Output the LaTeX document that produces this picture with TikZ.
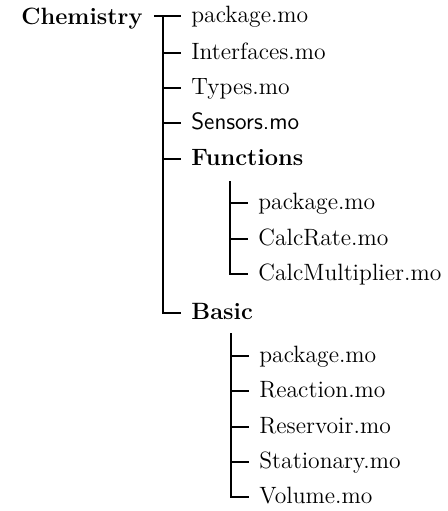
\documentclass[tikz,border=0pt]{standalone}
\usepackage{tikz}

\begin{document}
\begin{tikzpicture}[
    x=0.5pt,y=-0.5pt,
    every node/.style={font=\fontsize{11.8}{14}\selectfont},
    item/.style={anchor=west,inner xsep=5pt,inner ysep=0pt,text height=1.6ex,text depth=0pt},
    folder/.style={item,font=\fontsize{11.8}{14}\selectfont\bfseries},
    branch/.style={draw=black,line width=0.65pt}
]
\useasboundingbox (0,0) rectangle (447,511);

% root
\node[folder,anchor=east,inner xsep=0pt] (chem) at (143,18) {Chemistry};
\coordinate (barL) at (154,16);
\coordinate (rootTop) at (163,16);

% first level
\node[item] (pkgA) at (181,16) {package.mo};
\node[item] (iface) at (181,53) {Interfaces.mo};
\node[item] (types) at (181,88) {Types.mo};
\node[item,font=\fontsize{11.8}{14}\selectfont\sffamily] (sensors) at (181,123) {Sensors.mo};
\node[folder] (funcs) at (181,159) {Functions};
\node[folder] (basic) at (181,313) {Basic};
\draw[branch] (barL) -- (pkgA.west);
\draw[branch] (rootTop) |- (basic.west);
\draw[branch] (rootTop |- iface.west) -- (iface.west);
\draw[branch] (rootTop |- types.west) -- (types.west);
\draw[branch] (rootTop |- sensors.west) -- (sensors.west);
\draw[branch] (rootTop |- funcs.west) -- (funcs.west);

% Functions
\coordinate (funcsDrop) at (230,181);
\node[item] (fpkg) at (248,203) {package.mo};
\node[item] (calcrate) at (248,239) {CalcRate.mo};
\node[item] (calcmult) at (248,274) {CalcMultiplier.mo};
\draw[branch] (funcsDrop) |- (calcmult.west);
\draw[branch] (funcsDrop |- fpkg.west) -- (fpkg.west);
\draw[branch] (funcsDrop |- calcrate.west) -- (calcrate.west);

% Basic
\coordinate (basicDrop) at (231,333);
\node[item] (bpkg) at (249,356) {package.mo};
\node[item] (reaction) at (249,391) {Reaction.mo};
\node[item] (reservoir) at (249,427) {Reservoir.mo};
\node[item] (stationary) at (249,462) {Stationary.mo};
\node[item] (volume) at (249,497) {Volume.mo};
\draw[branch] (basicDrop) |- (volume.west);
\draw[branch] (basicDrop |- bpkg.west) -- (bpkg.west);
\draw[branch] (basicDrop |- reaction.west) -- (reaction.west);
\draw[branch] (basicDrop |- reservoir.west) -- (reservoir.west);
\draw[branch] (basicDrop |- stationary.west) -- (stationary.west);
\end{tikzpicture}
\end{document}
